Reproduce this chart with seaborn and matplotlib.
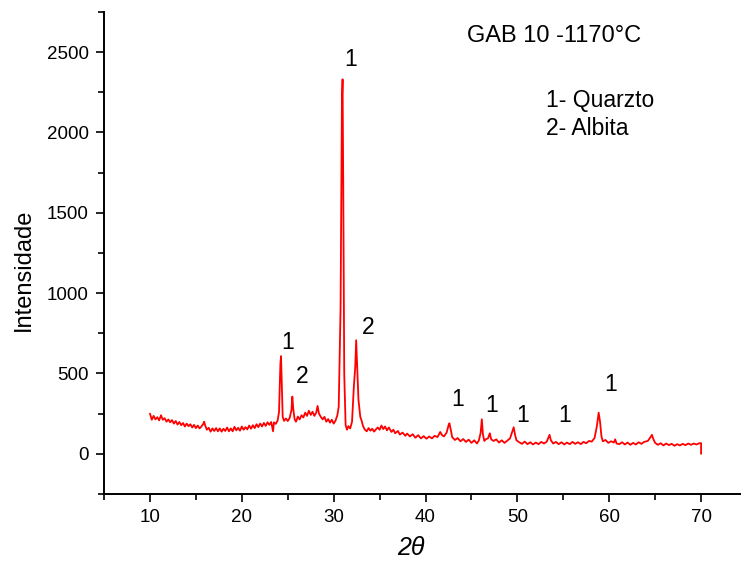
import matplotlib
matplotlib.use("Agg")
import matplotlib.pyplot as plt
import seaborn as sns
from matplotlib.ticker import MultipleLocator

two_theta = [
    10.0, 10.2, 10.4, 10.6, 10.8, 11.0, 11.2, 11.4, 11.6, 11.8,
    12.0, 12.2, 12.4, 12.6, 12.8, 13.0, 13.2, 13.4, 13.6, 13.8,
    14.0, 14.2, 14.4, 14.6, 14.8, 15.0, 15.2, 15.4, 15.6, 15.8,
    15.9, 16.0, 16.2, 16.4, 16.6, 16.8, 17.0, 17.2, 17.4, 17.6,
    17.8, 18.0, 18.2, 18.4, 18.6, 18.8, 19.0, 19.2, 19.4, 19.6,
    19.8, 20.0, 20.2, 20.4, 20.6, 20.8, 21.0, 21.2, 21.4, 21.6,
    21.8, 22.0, 22.2, 22.4, 22.6, 22.8, 23.0, 23.2, 23.4, 23.5,
    23.7, 23.9, 24.05, 24.2, 24.27, 24.35, 24.45, 24.6, 24.8, 25.0,
    25.2, 25.4, 25.5, 25.6, 25.75, 25.9, 26.1, 26.3, 26.5, 26.7,
    26.9, 27.1, 27.3, 27.5, 27.7, 27.9, 28.1, 28.25, 28.4, 28.6,
    28.8, 29.0, 29.2, 29.4, 29.6, 29.8, 30.0, 30.2, 30.4, 30.55,
    30.75, 30.9, 30.97, 31.05, 31.15, 31.3, 31.45, 31.6, 31.8, 32.0,
    32.2, 32.35, 32.45, 32.55, 32.7, 32.9, 33.05, 33.2, 33.4, 33.6,
    33.8, 34.0, 34.2, 34.4, 34.6, 34.8, 35.0, 35.2, 35.4, 35.6,
    35.8, 36.0, 36.3, 36.5, 36.7, 37.0, 37.2, 37.5, 37.8, 38.0,
    38.3, 38.6, 38.9, 39.2, 39.5, 39.8, 40.1, 40.4, 40.7, 41.0,
    41.3, 41.6, 41.8, 42.0, 42.3, 42.5, 42.6, 42.75, 42.9, 43.2,
    43.5, 43.8, 44.1, 44.4, 44.7, 45.0, 45.3, 45.6, 45.8, 46.0,
    46.13, 46.25, 46.4, 46.6, 46.8, 47.0, 47.15, 47.4, 47.7, 48.0,
    48.3, 48.6, 48.9, 49.2, 49.45, 49.6, 49.75, 49.9, 50.2, 50.5,
    50.8, 51.1, 51.4, 51.7, 52.0, 52.3, 52.6, 52.9, 53.2, 53.5,
    53.65, 53.9, 54.2, 54.5, 54.8, 55.1, 55.4, 55.7, 56.0, 56.3,
    56.6, 56.9, 57.2, 57.5, 57.8, 58.1, 58.4, 58.65, 58.85, 59.0,
    59.15, 59.3, 59.6, 59.9, 60.2, 60.5, 60.65, 60.8, 61.1, 61.4,
    61.7, 62.0, 62.3, 62.6, 62.9, 63.2, 63.5, 63.8, 64.2, 64.5,
    64.65, 64.8, 65.0, 65.3, 65.6, 65.9, 66.2, 66.5, 66.8, 67.1,
    67.4, 67.7, 68.0, 68.3, 68.6, 68.9, 69.2, 69.5, 69.8, 70.0,
    70.0,
]
intensidade = [
    250, 212, 236, 214, 228, 208, 240, 212, 222, 200,
    214, 196, 210, 188, 204, 182, 198, 178, 192, 170,
    188, 172, 184, 164, 180, 160, 176, 158, 170, 186,
    200, 178, 150, 162, 138, 158, 142, 160, 140, 158,
    138, 156, 142, 164, 140, 158, 140, 168, 146, 162,
    144, 170, 150, 166, 152, 176, 156, 178, 160, 184,
    166, 188, 170, 192, 174, 196, 180, 198, 140, 196,
    186, 208, 260, 560, 608, 450, 230, 205, 220, 204,
    222, 270, 356, 280, 215, 200, 232, 214, 240, 226,
    256, 236, 268, 242, 262, 236, 256, 298, 250, 230,
    214, 230, 200, 216, 194, 212, 188, 206, 240, 294,
    900, 2200, 2331, 1600, 500, 180, 150, 172, 158, 200,
    420, 542, 707, 560, 335, 230, 205, 172, 150, 140,
    160, 144, 156, 138, 152, 164, 150, 176, 154, 170,
    146, 164, 136, 150, 128, 142, 120, 132, 112, 126,
    108, 122, 100, 116, 96, 110, 94, 108, 96, 112,
    104, 136, 116, 108, 132, 176, 190, 150, 104, 86,
    98, 78, 92, 74, 88, 68, 84, 64, 82, 130,
    215, 120, 80, 92, 96, 128, 90, 80, 90, 70,
    84, 68, 82, 96, 140, 165, 118, 84, 72, 62,
    76, 60, 72, 58, 70, 60, 74, 64, 76, 118,
    84, 64, 74, 60, 72, 58, 70, 60, 74, 62,
    72, 60, 74, 66, 80, 76, 98, 170, 256, 200,
    110, 78, 86, 68, 78, 70, 90, 64, 60, 72,
    58, 70, 56, 68, 58, 72, 62, 74, 80, 104,
    118, 92, 68, 56, 66, 52, 64, 54, 62, 50,
    60, 52, 62, 54, 64, 56, 64, 58, 66, 66,
    0,
]

# rotulos dos picos: 1 = quartzo, 2 = albita
pico_x = [31.9, 25.0, 26.55, 33.75, 43.45, 47.15, 50.6, 55.1, 60.1]
pico_y = [2457, 695, 484, 788, 335, 298, 236, 236, 434]
pico_rotulo = ["1", "1", "2", "2", "1", "1", "1", "1", "1"]

sns.set_theme(style="ticks")
plt.rcParams["font.family"] = ["Liberation Sans", "DejaVu Sans"]
plt.rcParams["text.color"] = "black"
plt.rcParams["axes.labelcolor"] = "black"

fig = plt.figure(figsize=(7.41, 5.71), dpi=100)
ax = fig.add_axes([0.1404, 0.1349, 0.8677, 0.8441])

sns.lineplot(x=two_theta, y=intensidade, sort=False, estimator=None,
             color="#ff0000", linewidth=1.3, ax=ax)

ax.set_xlim(5, 75)
ax.set_ylim(-250, 2750)
ax.xaxis.set_major_locator(MultipleLocator(10))
ax.xaxis.set_minor_locator(MultipleLocator(5))
ax.yaxis.set_major_locator(MultipleLocator(500))
ax.yaxis.set_minor_locator(MultipleLocator(250))
ax.tick_params(which="major", direction="out", length=6, width=1.2,
               labelsize=13.5, colors="black", pad=5)
ax.tick_params(which="minor", direction="out", length=4, width=1.2,
               colors="black")

sns.despine(ax=ax)
for s in ["left", "bottom"]:
    ax.spines[s].set_linewidth(1.4)
    ax.spines[s].set_color("black")

ax.set_xlabel("2θ", fontsize=18, style="italic", color="black")
ax.xaxis.set_label_coords(0.477, -0.088)
ax.set_ylabel("Intensidade", fontsize=17, color="black")
ax.yaxis.set_label_coords(-0.107, 0.465)

for x, y, t in zip(pico_x, pico_y, pico_rotulo):
    ax.text(x, y, t, fontsize=16.5, ha="center", va="center", color="black")

ax.text(44.5, 2599, "GAB 10 -1170°C", fontsize=17, ha="left", va="center",
        color="black")
ax.text(53.1, 2196, "1- Quarzto", fontsize=16.5, ha="left", va="center",
        color="black")
ax.text(53.1, 2022, "2- Albita", fontsize=16.5, ha="left", va="center",
        color="black")

fig.savefig("out.png", dpi=100)
